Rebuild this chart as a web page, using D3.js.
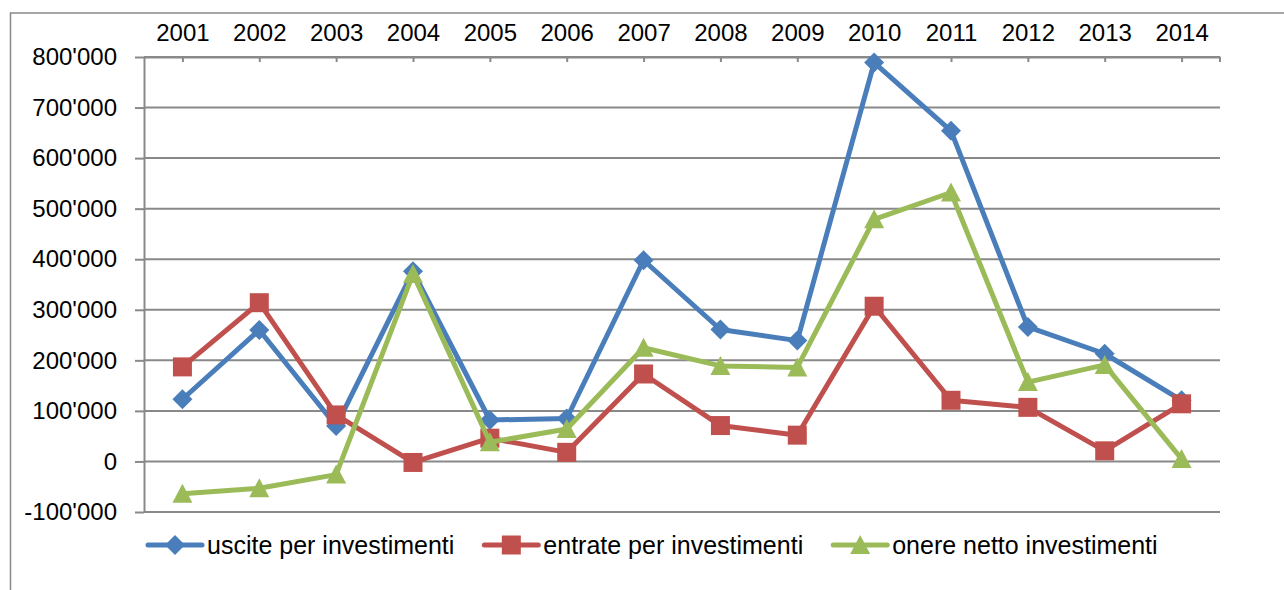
<!DOCTYPE html>
<html>
<head>
<meta charset="utf-8">
<script src="https://cdn.jsdelivr.net/npm/d3@7"></script>
<style>
    body { margin: 0; background: #fff; }
    svg { display: block; font-family: "Liberation Sans", Arial, sans-serif; }
</style>
</head>
<body>
<svg id="chart"></svg>
<script>
var years = ["2001", "2002", "2003", "2004", "2005", "2006", "2007", "2008", "2009", "2010", "2011", "2012", "2013", "2014"];
var uscite = [123000, 260000, 70000, 376000, 82000, 85000, 398000, 261000, 239000, 789000, 654000, 266000, 213000, 121000];
var entrate = [187000, 314000, 92000, -2000, 46000, 18000, 173000, 71000, 52000, 307000, 121000, 107000, 21000, 114000];
var onere = [-64000, -53000, -26000, 371000, 38000, 64000, 225000, 189000, 186000, 479000, 532000, 157000, 191000, 5000];
var seriesNames = ["uscite per investimenti", "entrate per investimenti", "onere netto investimenti"];
var yTicks = [-100000, 0, 100000, 200000, 300000, 400000, 500000, 600000, 700000, 800000];

var width = 1284, height = 590;
var plotLeft = 144, plotRight = 1220, plotTop = 57, plotBottom = 512;
var colors = ["#4a7ebb", "#c0504d", "#9bbb59"];
var gridColor = "#898989";

var svg = d3.select('svg#chart')
    .attr('width', width)
    .attr('height', height);

// chart border, runs past the window on the right and bottom
svg.append('rect')
    .attr('x', 10.5)
    .attr('y', 13)
    .attr('width', width + 20)
    .attr('height', height + 20)
    .attr('fill', 'none')
    .attr('stroke', gridColor)
    .attr('stroke-width', 1.5);

var x = d3.scalePoint()
    .domain(years)
    .range([plotLeft, plotRight])
    .padding(0.5);

var y = d3.scaleLinear()
    .domain([-100000, 800000])
    .range([plotBottom, plotTop]);

var locale = d3.formatLocale({
    decimal: ".",
    thousands: "'",
    grouping: [3],
    currency: ["", ""],
    minus: "-"
});
var fmt = locale.format(",");

// gridlines
svg.append('g')
    .selectAll('line')
    .data(yTicks)
    .enter()
    .append('line')
    .attr('x1', plotLeft)
    .attr('x2', plotRight)
    .attr('y1', function (d) { return y(d); })
    .attr('y2', function (d) { return y(d); })
    .attr('stroke', gridColor)
    .attr('stroke-width', 2);

// left axis
var yAxis = svg.append('g')
    .attr('transform', 'translate(' + plotLeft + ',0)')
    .call(d3.axisLeft(y)
        .tickValues(yTicks)
        .tickFormat(fmt)
        .tickSizeInner(9)
        .tickSizeOuter(0)
        .tickPadding(18));
yAxis.select('.domain').attr('stroke', gridColor).attr('stroke-width', 2);
yAxis.selectAll('.tick line').attr('stroke', gridColor).attr('stroke-width', 2);
yAxis.selectAll('.tick text')
    .attr('fill', '#000')
    .style('font-size', '24px')
    .style('font-family', '"Liberation Sans", Arial, sans-serif');

// top axis with the years, ticks pointing down into the plot
var xAxis = svg.append('g')
    .attr('transform', 'translate(0,' + plotTop + ')')
    .call(d3.axisTop(x)
        .tickSizeInner(-5)
        .tickSizeOuter(0)
        .tickPadding(16));
xAxis.select('.domain').attr('stroke', gridColor).attr('stroke-width', 2);
xAxis.selectAll('.tick line').attr('stroke', gridColor).attr('stroke-width', 2);
xAxis.selectAll('.tick text')
    .attr('fill', '#000')
    .style('font-size', '24px')
    .style('font-family', '"Liberation Sans", Arial, sans-serif');
xAxis.append('line')
    .attr('x1', x.range()[1])
    .attr('x2', x.range()[1])
    .attr('y1', 0)
    .attr('y2', 5)
    .attr('stroke', gridColor)
    .attr('stroke-width', 2);

// markers
function markerPath(k) {
    if (k === 0) return "M0,-10L10,0L0,10L-10,0Z";
    if (k === 1) return "M-9.5,-9.5L9.5,-9.5L9.5,9.5L-9.5,9.5Z";
    return "M0,-10L10,9L-10,9Z";
}

var allSeries = [uscite, entrate, onere];

var line = d3.line()
    .x(function (d, i) { return x(years[i]); })
    .y(function (d) { return y(d); });

allSeries.forEach(function (values, k) {
    var g = svg.append('g');
    g.append('path')
        .datum(values)
        .attr('d', line)
        .attr('fill', 'none')
        .attr('stroke', colors[k])
        .attr('stroke-width', 5)
        .attr('stroke-linejoin', 'round');
    g.selectAll('path.marker')
        .data(values)
        .enter()
        .append('path')
        .attr('class', 'marker')
        .attr('d', markerPath(k))
        .attr('transform', function (d, i) {
            return 'translate(' + x(years[i]) + ',' + y(d) + ')';
        })
        .attr('fill', colors[k]);
});

// legend
var legendY = 545;
var lx = 148;
seriesNames.forEach(function (name, k) {
    var g = svg.append('g').attr('transform', 'translate(' + lx + ',' + legendY + ')');
    g.append('line')
        .attr('x1', 0)
        .attr('x2', 54)
        .attr('stroke', colors[k])
        .attr('stroke-width', 5)
        .attr('stroke-linecap', 'round');
    g.append('path')
        .attr('d', markerPath(k))
        .attr('transform', 'translate(27,0)')
        .attr('fill', colors[k]);
    var t = g.append('text')
        .attr('x', 59)
        .attr('dy', '0.35em')
        .style('font-size', '25px')
        .attr('fill', '#000')
        .text(name);
    lx += 59 + t.node().getComputedTextLength() + 30;
});
</script>
</body>
</html>
